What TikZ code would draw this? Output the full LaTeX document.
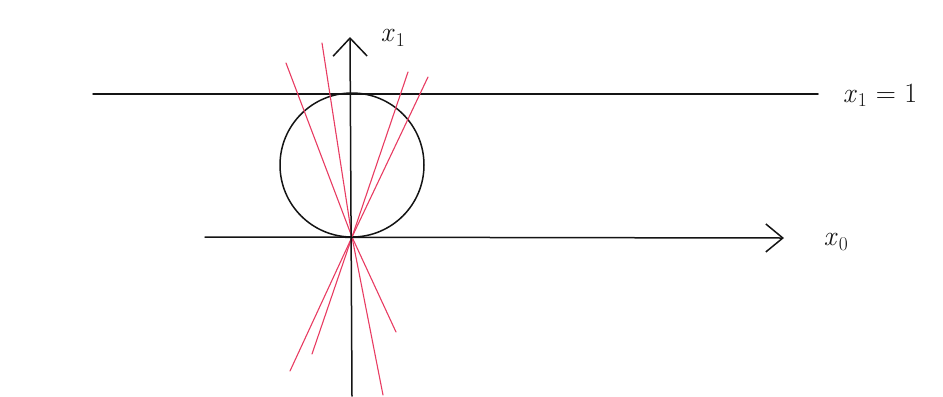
\documentclass[tikz,border=0pt]{standalone}
\usepackage{fontspec}
\usetikzlibrary{arrows.meta}
\definecolor{pen}{RGB}{20,20,20}
\definecolor{redpen}{RGB}{232,60,98}
\newcommand{\subx}[1]{\textit{x}\kern1pt\textsubscript{#1}}
\begin{document}
\begin{tikzpicture}[x=1bp,y=-1bp,
  ink/.style={draw=pen,line width=1.5bp,line cap=round},
  redline/.style={draw=redpen,line width=1.1bp,line cap=round},
  lbl/.style={font=\fontsize{28}{32}\selectfont,text=pen,inner sep=0pt}]
\useasboundingbox (0,0) rectangle (943,396);
\coordinate (O) at (352,237);
\coordinate (ybot) at (352,396);
\coordinate (ytop) at (350,37);
\coordinate (xleft) at (205,237);
\coordinate (xright) at (784,238);
\coordinate (hl) at (93,94);
\coordinate (hr) at (818,94);
% horizontal line x1 = 1
\draw[ink] (hl) -- (hr);
% circle
\draw[ink] (352,165) circle[x radius=72, y radius=72];
% red lines through origin
\coordinate (t1) at (286,63);  \coordinate (b1) at (396,332);
\coordinate (t2) at (322,43);  \coordinate (b2) at (383,395);
\coordinate (t3) at (408,72);  \coordinate (b3) at (312,354);
\coordinate (t4) at (428,77);  \coordinate (b4) at (290,371);
\draw[redline] (t1) -- (O) -- (b1);
\draw[redline] (t2) -- (O) -- (b2);
\draw[redline] (t3) -- (O) -- (b3);
\draw[redline] (t4) -- (O) -- (b4);
% axes
\draw[ink,-{Straight Barb[length=17bp,width=28bp]}] (xleft) -- (xright);
\draw[ink,-{Straight Barb[length=18bp,width=34bp]}] (ybot) -- (ytop);
% labels
\node[lbl] (lx1) at (393,38) {\subx{1}};
\node[lbl] (lhl) at (880,95) {\subx{1} = 1};
\node[lbl] (lx0) at (836,242) {\subx{0}};
\end{tikzpicture}
\end{document}
